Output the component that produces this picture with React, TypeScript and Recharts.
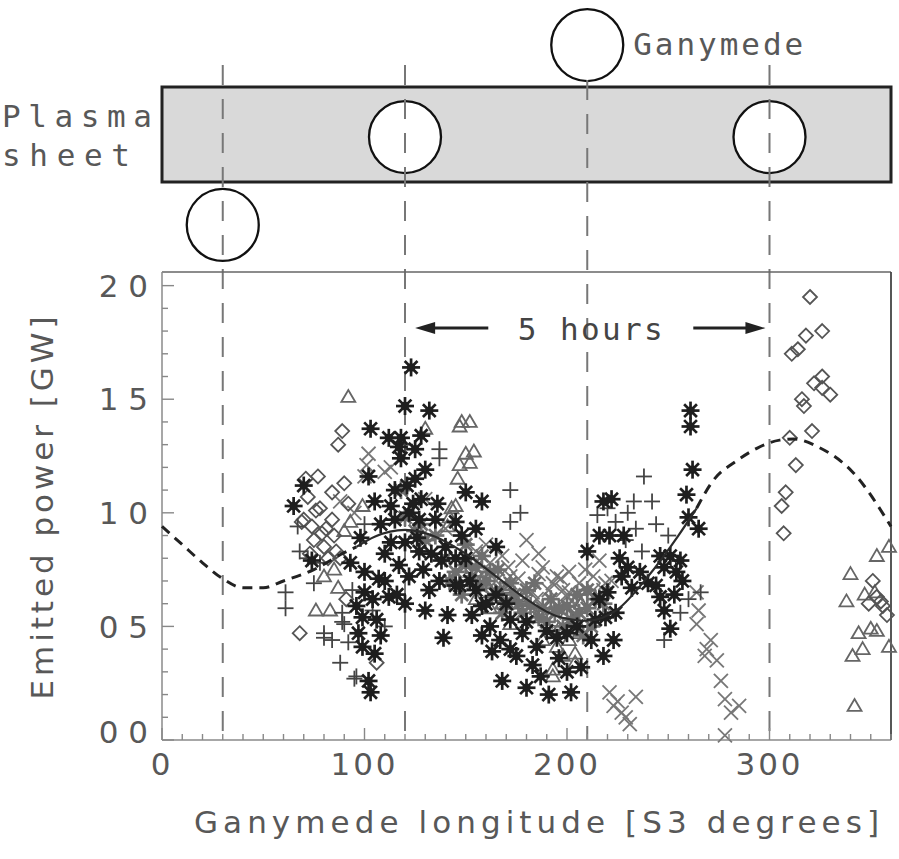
import React from "react";
import {
  ComposedChart,
  XAxis,
  YAxis,
  Scatter,
  Line,
  ReferenceLine,
  ReferenceArea,
  ReferenceDot,
} from "recharts";

// emitted power vs Ganymede longitude, one list per marker style: [lon, power]
const asteriskPts: [number, number][] = [
  [65, 10.3], [70, 11.2], [74, 7.9], [97, 4.7], [99, 5.4], [99, 4.1], [100, 7.4], [102, 11.6],
  [102, 2.6], [103, 13.7], [103, 2.1], [105, 3.8], [106, 5.3], [107, 7.1], [108, 4.6], [112, 6.3],
  [113, 8.7], [115, 11.0], [115, 9.7], [117, 12.9], [118, 12.4], [120, 14.7], [120, 8.7], [123, 16.4],
  [125, 12.8], [125, 11.5], [127, 9.7], [127, 8.3], [128, 10.6], [130, 11.9], [130, 5.7], [132, 14.5],
  [135, 9.7], [137, 7.0], [138, 7.9], [139, 4.5], [141, 5.5], [145, 6.8], [147, 6.8], [150, 10.9],
  [155, 9.3], [158, 10.5], [158, 5.9], [158, 4.6], [160, 6.0], [163, 3.9], [165, 8.5], [168, 2.6],
  [172, 5.3], [175, 3.7], [178, 4.7], [180, 2.3], [185, 4.1], [187, 2.8], [191, 2.0], [202, 2.1],
  [207, 3.2], [210, 8.3], [214, 5.3], [216, 9.0], [218, 10.5], [218, 3.7], [219, 5.4], [221, 9.0],
  [222, 10.6], [223, 4.4], [224, 5.6], [228, 9.0], [227, 7.2], [230, 7.6], [244, 6.8], [248, 7.6],
  [248, 5.7], [251, 8.1], [251, 4.9], [254, 7.4], [256, 7.9], [259, 10.8], [260, 9.8], [261, 14.5],
  [261, 13.8], [262, 11.9], [265, 9.3], [140, 8.5], [145, 8.0], [152, 7.0], [155, 6.6], [165, 6.4],
  [170, 6.0], [180, 5.2], [190, 4.8], [195, 4.5], [200, 4.7], [205, 5.0], [148, 9.0], [132, 6.6],
  [120, 6.0], [117, 7.7], [110, 8.2], [108, 9.5], [122, 10.0], [113, 10.3],
  [118, 13.3], [121, 11.2], [124, 10.4], [126, 8.9], [129, 7.5], [133, 8.2], [136, 10.4], [128, 13.4],
  [122, 7.2], [116, 6.4], [110, 7.0], [104, 6.2], [100, 6.5], [96, 5.9], [93, 7.8], [98, 8.9],
  [105, 10.5], [112, 13.3], [145, 9.6], [150, 8.0], [153, 5.5], [162, 5.0], [167, 4.4], [172, 4.0],
  [183, 3.3], [196, 3.6], [200, 3.0], [212, 4.4], [216, 6.2], [220, 6.5], [226, 8.0], [232, 6.7],
  [236, 7.4], [240, 6.9], [246, 6.3], [253, 6.4], [257, 7.0], [246, 8.1],
];

const grayStarPts: [number, number][] = [
  [140, 8.0], [145, 7.4], [150, 7.7], [153, 7.2], [157, 6.8], [160, 7.0], [163, 6.3], [167, 6.6],
  [170, 6.1], [174, 6.4], [178, 5.6], [182, 5.9], [186, 5.4], [190, 5.2], [194, 5.6], [198, 5.0],
  [202, 5.3], [206, 5.6], [210, 5.8], [214, 6.2], [218, 6.0], [150, 8.6], [158, 8.1], [166, 7.5],
  [120, 9.8], [125, 9.2], [118, 11.0], [142, 7.0], [148, 6.4], [155, 7.6], [162, 7.4], [168, 5.6],
  [172, 6.9], [176, 6.0], [180, 6.6], [184, 6.9], [188, 5.8], [192, 6.2], [196, 5.8], [200, 5.9],
  [205, 6.4], [210, 6.6], [212, 5.0], [208, 4.6], [135, 9.0], [130, 8.8], [128, 9.5],
];

const diamondPts: [number, number][] = [
  [68, 4.7], [69, 9.6], [70, 9.7], [72, 10.7], [74, 9.4], [75, 8.8], [77, 11.6], [79, 9.1],
  [80, 8.5], [84, 10.9], [84, 9.7], [87, 13.0], [89, 13.6], [90, 11.3], [91, 6.2], [92, 10.4],
  [106, 3.4], [82, 8.0], [86, 8.3], [78, 10.2], [73, 8.2], [76, 10.1], [81, 9.3], [85, 9.0],
  [88, 8.0], [71, 11.5],
  [306, 10.3], [307, 9.1], [308, 10.9], [310, 13.3], [311, 17.0], [313, 12.1], [314, 17.2],
  [316, 15.0], [317, 14.7], [318, 17.8], [320, 19.5], [321, 13.6], [322, 15.7], [326, 18.0],
  [326, 16.0], [326, 15.5], [330, 15.2], [351, 7.0], [353, 6.3], [356, 5.9], [358, 5.5],
  [355, 6.1], [349, 6.0],
];

const trianglePts: [number, number][] = [
  [76, 5.7], [80, 7.2], [83, 5.7], [85, 7.5], [87, 6.7], [90, 9.2], [92, 15.1], [93, 9.6],
  [99, 10.3], [130, 13.7], [141, 9.4], [142, 9.8], [143, 10.2], [145, 10.3], [146, 11.5],
  [147, 12.1], [147, 13.8], [148, 14.0], [150, 12.6], [152, 14.0], [152, 12.2], [154, 12.7],
  [193, 3.1], [193, 2.8], [195, 4.1], [198, 3.7], [201, 4.4], [204, 3.4], [204, 3.8], [204, 5.3],
  [206, 4.7], [160, 6.9], [165, 6.5], [170, 6.7], [175, 6.0], [155, 6.2], [162, 5.8], [168, 6.0],
  [178, 6.3], [185, 5.4], [188, 4.4], [196, 4.9], [207, 6.0], [200, 5.6], [172, 5.1],
  [338, 6.1], [340, 7.3], [341, 3.7], [342, 1.5], [344, 4.7], [346, 4.0], [347, 6.4], [350, 4.9],
  [352, 6.5], [353, 8.1], [353, 4.8], [359, 8.5], [359, 4.1],
];

const plusPts: [number, number][] = [
  [61, 6.5], [61, 5.8], [67, 9.4], [68, 8.3], [75, 6.9], [80, 4.7], [80, 4.5], [88, 3.4],
  [89, 5.2], [89, 5.6], [90, 5.1], [94, 6.6], [95, 2.7], [96, 2.8], [137, 12.8], [137, 12.4],
  [172, 11.0], [172, 9.6], [177, 10.0], [224, 9.6], [229, 8.8], [233, 10.5], [234, 9.3],
  [237, 8.3], [238, 11.6], [242, 10.5], [244, 9.5], [248, 4.4], [260, 6.2], [266, 6.5],
  [110, 5.0], [100, 9.5], [120, 13.0], [72, 8.0], [78, 7.8], [92, 4.3], [84, 4.4], [104, 5.7],
  [215, 9.9], [220, 10.2], [230, 10.0], [250, 9.0], [256, 5.6],
];

const crossPts: [number, number][] = [
  [100, 11.6], [101, 12.1], [102, 12.6], [110, 11.8], [113, 12.0], [155, 8.3], [162, 7.8],
  [171, 7.6], [172, 7.2], [176, 7.1], [180, 8.8], [183, 6.5], [185, 6.2], [188, 7.6], [191, 6.6],
  [191, 5.7], [195, 7.2], [197, 7.1], [200, 6.3], [201, 7.4], [201, 6.5], [204, 6.0], [204, 5.4],
  [213, 7.2], [213, 6.6], [218, 6.6], [219, 6.9], [221, 2.1], [223, 1.5], [225, 1.7], [227, 1.2],
  [229, 1.0], [231, 0.7], [234, 1.9], [264, 6.5], [264, 5.1], [265, 5.7], [268, 3.7], [269, 4.0],
  [271, 4.4], [274, 3.5], [276, 2.6], [278, 1.8], [281, 1.2], [285, 1.5], [278, 0.2],
  [150, 8.9], [158, 7.3], [165, 7.0], [168, 8.1], [178, 7.9], [186, 7.3], [193, 6.9], [198, 6.6],
  [206, 6.9], [209, 7.5], [216, 7.9], [222, 7.0], [186, 8.2], [160, 8.6], [140, 9.3], [130, 10.6],
  [95, 10.0], [88, 10.5],
];

// model curve, solid over the fitted range, dashed elsewhere
const curveLon = [0, 10, 20, 30, 40, 50, 60, 75, 90, 96, 105, 120, 135, 150, 165, 180, 195, 210, 225, 240, 255, 264, 272, 284, 294, 305, 312, 324, 341, 360];
const curvePow = [9.4, 8.6, 7.8, 7.1, 6.7, 6.7, 7.0, 7.5, 8.25, 8.5, 8.95, 9.25, 8.95, 8.2, 7.2, 6.2, 5.45, 5.25, 5.75, 7.2, 9.0, 10.2, 11.4, 12.3, 12.85, 13.2, 13.25, 12.9, 11.8, 9.4];
const solidFrom = 96;
const solidTo = 264;

// schematic above the plot (in the plot's own data units)
const phaseLon = [30, 120, 210, 300];
const moonLevel = [22.67, 26.54, 30.59, 26.54];
const dashTop = [29.71, 29.71, 29.05, 29.71];
const sheetTop = 28.74;
const sheetBottom = 24.56;
const arrowFrom = 125;
const arrowTo = 298;
const arrowLevel = 18.13;

const xMajor = [0, 100, 200, 300];
const yMajor = [0, 5, 10, 15, 20];
const xTicks = Array.from({ length: 37 }, (_, i) => i * 10);
const yTicks = Array.from({ length: 21 }, (_, i) => i);

const toXY = (pts: [number, number][]) => pts.map(([x, y]) => ({ x, y }));
const curve = curveLon.map((x, i) => ({ x, y: curvePow[i] }));
const curveLeft = curve.filter((d) => d.x <= solidFrom);
const curveMid = curve.filter((d) => d.x >= solidFrom && d.x <= solidTo);
const curveRight = curve.filter((d) => d.x >= solidTo);

const SANS = "'DejaVu Sans', sans-serif";
const MONO = "'DejaVu Sans Mono', monospace";
const TXT = "#585858";
const fmtY = (v: number) => String(v).padStart(2, "0").split("").join(" ");

const makeStar = (color: string) => (p: any) => {
  const { cx, cy } = p;
  if (cx == null || cy == null) return <g />;
  const r = 9;
  const d = 6.4;
  return (
    <g stroke={color} strokeWidth={2.7}>
      <line x1={cx - r} y1={cy} x2={cx + r} y2={cy} />
      <line x1={cx} y1={cy - r} x2={cx} y2={cy + r} />
      <line x1={cx - d} y1={cy - d} x2={cx + d} y2={cy + d} />
      <line x1={cx - d} y1={cy + d} x2={cx + d} y2={cy - d} />
      <circle cx={cx} cy={cy} r={4.2} fill={color} stroke="none" />
    </g>
  );
};

const Diamond = (p: any) => {
  const { cx, cy } = p;
  if (cx == null || cy == null) return <g />;
  const r = 7;
  return <path d={`M${cx},${cy - r}L${cx + r},${cy}L${cx},${cy + r}L${cx - r},${cy}Z`} fill="none" stroke="#555" strokeWidth={1.8} />;
};

const Triangle = (p: any) => {
  const { cx, cy } = p;
  if (cx == null || cy == null) return <g />;
  return <path d={`M${cx},${cy - 7}L${cx + 7},${cy + 5}L${cx - 7},${cy + 5}Z`} fill="none" stroke="#666" strokeWidth={1.8} />;
};

const Plus = (p: any) => {
  const { cx, cy } = p;
  if (cx == null || cy == null) return <g />;
  return (
    <g stroke="#444" strokeWidth={1.8}>
      <line x1={cx - 8} y1={cy} x2={cx + 8} y2={cy} />
      <line x1={cx} y1={cy - 8} x2={cx} y2={cy + 8} />
    </g>
  );
};

const Cross = (p: any) => {
  const { cx, cy } = p;
  if (cx == null || cy == null) return <g />;
  return (
    <g stroke="#777" strokeWidth={1.8}>
      <line x1={cx - 7} y1={cy - 7} x2={cx + 7} y2={cy + 7} />
      <line x1={cx - 7} y1={cy + 7} x2={cx + 7} y2={cy - 7} />
    </g>
  );
};

function BottomTick(props: any) {
  const { x, y, payload } = props;
  const major = xMajor.includes(payload.value);
  return (
    <g>
      <line x1={x} x2={x} y1={y} y2={y - (major ? 12 : 6)} stroke="#888" strokeWidth={1.4} />
      {major && (
        <text x={x} y={y + 35} textAnchor="middle" fontSize={31} fill={TXT} fontFamily={SANS} letterSpacing={3}>
          {payload.value}
        </text>
      )}
    </g>
  );
}

function TopTick(props: any) {
  const { x, y, payload } = props;
  const major = xMajor.includes(payload.value);
  return <line x1={x} x2={x} y1={y} y2={y + (major ? 12 : 6)} stroke="#888" strokeWidth={1.4} />;
}

function LeftTick(props: any) {
  const { x, y, payload } = props;
  const major = yMajor.includes(payload.value);
  const lift = payload.value === 0 ? -8 : 0;
  return (
    <g>
      <line x1={x} x2={x + (major ? 12 : 6)} y1={y} y2={y} stroke="#888" strokeWidth={1.4} />
      {major && (
        <text x={x - 14} y={y + lift} dy="0.36em" textAnchor="end" fontSize={31} fill={TXT} fontFamily={SANS}>
          {fmtY(payload.value)}
        </text>
      )}
    </g>
  );
}

function RightTick(props: any) {
  const { x, y, payload } = props;
  const major = yMajor.includes(payload.value);
  return <line x1={x} x2={x - (major ? 12 : 6)} y1={y} y2={y} stroke="#555" strokeWidth={1.4} />;
}

function XTitle(props: any) {
  const vb = props.viewBox || { x: 162, y: 740, width: 729 };
  return (
    <text x={vb.x + vb.width / 2 + 10} y={vb.y + 93} textAnchor="middle" fontSize={31} fill={TXT} fontFamily={SANS} textLength={685} lengthAdjust="spacing">
      Ganymede longitude [S3 degrees]
    </text>
  );
}

function YTitle(props: any) {
  const vb = props.viewBox || { y: 272, height: 468 };
  const cy = vb.y + vb.height / 2 + 2;
  return (
    <text x={42} y={cy} transform={`rotate(-90 42 ${cy})`} textAnchor="middle" dominantBaseline="central" fontSize={31} fill={TXT} fontFamily={SANS} textLength={383} lengthAdjust="spacing">
      Emitted power [GW]
    </text>
  );
}

function SheetLabel(props: any) {
  const vb = props.viewBox || { x: 162, y: 87 };
  return (
    <g fontFamily={MONO} fontSize={31} fill={TXT}>
      <text x={vb.x - 160} y={vb.y + 40} textLength={150} lengthAdjust="spacing">Plasma</text>
      <text x={vb.x - 160} y={vb.y + 79} textLength={128} lengthAdjust="spacing">sheet</text>
    </g>
  );
}

function MoonLabel(props: any) {
  const vb = props.viewBox || { x: 0, y: 0, width: 0, height: 0 };
  return (
    <text x={vb.x + vb.width + 10} y={vb.y + vb.height / 2 + 10} fontFamily={MONO} fontSize={31} fill={TXT} textLength={170} lengthAdjust="spacing">
      Ganymede
    </text>
  );
}

function ArrowLabel(props: any) {
  const vb = props.viewBox || {};
  const x0 = vb.x ?? Math.min(vb.x1, vb.x2);
  const w = vb.width ?? Math.abs(vb.x2 - vb.x1);
  const y = vb.y ?? vb.y1;
  const x1 = x0 + w;
  const mid = x0 + w / 2;
  const c = "#222";
  return (
    <g>
      <line x1={x0 + 16} x2={mid - 102} y1={y} y2={y} stroke={c} strokeWidth={3} />
      <path d={`M${x0},${y}L${x0 + 20},${y - 6}L${x0 + 20},${y + 6}Z`} fill={c} />
      <line x1={mid + 103} x2={x1 - 16} y1={y} y2={y} stroke={c} strokeWidth={3} />
      <path d={`M${x1},${y}L${x1 - 20},${y - 6}L${x1 - 20},${y + 6}Z`} fill={c} />
      <text x={mid} y={y + 12} textAnchor="middle" fontFamily={MONO} fontSize={31} fill="#444" textLength={145} lengthAdjust="spacing">
        5 hours
      </text>
    </g>
  );
}

export default function App() {
  return (
    <div style={{ position: "absolute", left: 0, top: 0, width: 899, height: 859, background: "#fff" }}>
      <ComposedChart width={899} height={859} margin={{ top: 270, right: 0, bottom: 0, left: 0 }}>
        <XAxis
          dataKey="x"
          type="number"
          domain={[0, 360]}
          ticks={xTicks}
          interval={0}
          height={119}
          axisLine={{ stroke: "#8a8a8a", strokeWidth: 1.5 }}
          tickLine={false}
          tickSize={0}
          tickMargin={0}
          tick={<BottomTick />}
          label={<XTitle />}
        />
        <XAxis
          xAxisId="top"
          orientation="top"
          dataKey="x"
          type="number"
          domain={[0, 360]}
          ticks={xTicks}
          interval={0}
          height={2}
          axisLine={{ stroke: "#666", strokeWidth: 1.5 }}
          tickLine={false}
          tickSize={0}
          tickMargin={0}
          tick={<TopTick />}
        />
        <YAxis
          type="number"
          domain={[0, 20.6]}
          ticks={yTicks}
          interval={0}
          width={162}
          axisLine={{ stroke: "#8a8a8a", strokeWidth: 1.5 }}
          tickLine={false}
          tickSize={0}
          tickMargin={0}
          tick={<LeftTick />}
          label={<YTitle />}
        />
        <YAxis
          yAxisId="right"
          orientation="right"
          type="number"
          domain={[0, 20.6]}
          ticks={yTicks}
          interval={0}
          width={8}
          axisLine={{ stroke: "#444", strokeWidth: 1.8 }}
          tickLine={false}
          tickSize={0}
          tickMargin={0}
          tick={<RightTick />}
        />

        <ReferenceArea
          x1={0}
          x2={360}
          y1={sheetBottom}
          y2={sheetTop}
          ifOverflow="visible"
          fill="#d9d9d9"
          fillOpacity={1}
          stroke="#222"
          strokeWidth={3}
          zIndex={10}
          label={<SheetLabel />}
        />
        {phaseLon.map((lon, i) => (
          <ReferenceDot
            key={`moon-${lon}`}
            x={lon}
            y={moonLevel[i]}
            r={36}
            ifOverflow="visible"
            fill="#fff"
            stroke="#111"
            strokeWidth={2.3}
            zIndex={20}
            label={i === 2 ? <MoonLabel /> : undefined}
          />
        ))}
        {phaseLon.map((lon, i) => (
          <ReferenceLine
            key={`phase-${lon}`}
            segment={[{ x: lon, y: dashTop[i] }, { x: lon, y: 0 }]}
            ifOverflow="visible"
            stroke="#777"
            strokeWidth={2}
            strokeDasharray="20 14"
            zIndex={30}
          />
        ))}
        <ReferenceLine
          segment={[{ x: arrowFrom, y: arrowLevel }, { x: arrowTo, y: arrowLevel }]}
          ifOverflow="visible"
          stroke="none"
          label={<ArrowLabel />}
        />

        <Scatter data={toXY(crossPts)} dataKey="y" shape={Cross} isAnimationActive={false} />
        <Scatter data={toXY(trianglePts)} dataKey="y" shape={Triangle} isAnimationActive={false} />
        <Scatter data={toXY(diamondPts)} dataKey="y" shape={Diamond} isAnimationActive={false} />
        <Scatter data={toXY(grayStarPts)} dataKey="y" shape={makeStar("#6e6e6e")} isAnimationActive={false} />
        <Scatter data={toXY(plusPts)} dataKey="y" shape={Plus} isAnimationActive={false} />
        <Scatter data={toXY(asteriskPts)} dataKey="y" shape={makeStar("#1e1e1e")} isAnimationActive={false} />

        <Line data={curveLeft} dataKey="y" type="monotone" stroke="#222" strokeWidth={3} strokeDasharray="10 7" dot={false} activeDot={false} isAnimationActive={false} zIndex={700} />
        <Line data={curveMid} dataKey="y" type="monotone" stroke="#2a2a2a" strokeWidth={2.2} dot={false} activeDot={false} isAnimationActive={false} zIndex={700} />
        <Line data={curveRight} dataKey="y" type="monotone" stroke="#222" strokeWidth={3} strokeDasharray="10 7" dot={false} activeDot={false} isAnimationActive={false} zIndex={700} />
      </ComposedChart>
    </div>
  );
}
